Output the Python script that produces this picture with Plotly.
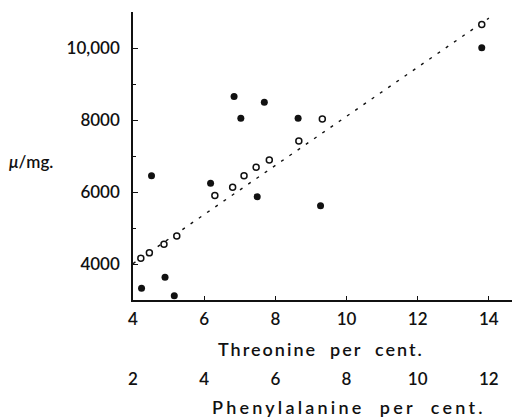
import plotly.graph_objects as go

# Threonine per cent. (x) and activity in units per mg (y)
threonine_pct = [4.24, 4.52, 4.90, 5.16, 6.18, 6.84, 7.03, 7.49, 7.69, 8.64, 9.27, 13.80]
observed_units = [3325, 6450, 3630, 3120, 6240, 8650, 8050, 5870, 8490, 8050, 5620, 10010]

fitted_threonine_pct = [4.22, 4.46, 4.87, 5.23, 6.30, 6.80, 7.12, 7.46, 7.83, 8.66, 9.32, 13.80]
fitted_units = [4160, 4310, 4550, 4780, 5900, 6130, 6450, 6690, 6890, 7420, 8030, 10650]

regression_x = [4.0, 14.0]
regression_y = [4010, 10830]

threonine_ticks = [4, 6, 8, 10, 12, 14]
phenylalanine_ticks = [2, 4, 6, 8, 10, 12]
y_major_ticks = [4000, 6000, 8000, 10000]
y_major_labels = ["4000", "6000", "8000", "10,000"]
y_minor_ticks = [5000, 7000, 9000]

INK = "#111111"
FONT = "Lato"
W = 600

fig = go.Figure()
fig.add_trace(go.Scatter(
    x=regression_x, y=regression_y, mode="lines",
    line=dict(color=INK, width=1.4, dash="3px,7px"),
    showlegend=False, hoverinfo="skip"))
fig.add_trace(go.Scatter(
    x=fitted_threonine_pct, y=fitted_units, mode="markers",
    marker=dict(symbol="circle", size=6, color="white",
                line=dict(color=INK, width=1.5)),
    showlegend=False))
fig.add_trace(go.Scatter(
    x=threonine_pct, y=observed_units, mode="markers",
    marker=dict(symbol="circle", size=7, color=INK, line=dict(width=0)),
    showlegend=False))
fig.add_trace(go.Scatter(x=[], y=[], xaxis="x2", showlegend=False, hoverinfo="skip"))

y_dom0 = 120 / 408

def spaced(s, px):
    return '<span style="letter-spacing:%spx">' % px + s + '</span>'

tick_font = dict(family=FONT, size=17, color=INK, weight=W)

fig.update_layout(
    width=519, height=420, autosize=False,
    margin=dict(l=133, r=7, t=12, b=0),
    paper_bgcolor="white", plot_bgcolor="white",
    font=dict(family=FONT, size=17, color=INK, weight=W),
    xaxis=dict(
        range=[4, 14.65], tickvals=threonine_ticks,
        ticks="inside", ticklen=4, tickwidth=1, tickcolor=INK,
        ticklabelstandoff=3,
        showline=True, linecolor=INK, linewidth=1.5,
        showgrid=False, zeroline=False, anchor="y",
        tickfont=tick_font),
    xaxis2=dict(
        range=[2, 12.65], tickvals=phenylalanine_ticks,
        overlaying="x", anchor="free", position=0.129, side="bottom",
        ticks="", showline=False, showgrid=False, zeroline=False,
        tickfont=tick_font),
    yaxis=dict(
        domain=[y_dom0, 1], range=[3000, 11000],
        tickvals=y_major_ticks, ticktext=y_major_labels,
        ticks="inside", ticklen=5, tickwidth=1, tickcolor=INK,
        minor=dict(tickvals=y_minor_ticks, ticks="inside", ticklen=3,
                   tickcolor=INK, showgrid=False),
        ticklabelstandoff=8,
        showline=True, linecolor=INK, linewidth=1.5,
        showgrid=False, zeroline=False,
        tickfont=tick_font),
    annotations=[
        dict(text=spaced("Threonine\u00a0 per\u00a0 cent.", 2), xref="paper", yref="paper",
             x=(321 - 133) / 379, y=(420 - 349) / 408,
             xanchor="center", yanchor="middle", showarrow=False,
             font=dict(family=FONT, size=18, color=INK, weight=W)),
        dict(text=spaced("Phenylalanine\u00a0 per\u00a0 cent.", 3.2), xref="paper", yref="paper",
             x=(349 - 133) / 379, y=(420 - 407) / 408,
             xanchor="center", yanchor="middle", showarrow=False,
             font=dict(family=FONT, size=18, color=INK, weight=W)),
        dict(text="<i>\u03bc</i>/mg.", xref="paper", yref="paper",
             x=(7 - 133) / 379, y=(420 - 161) / 408,
             xanchor="left", yanchor="middle", showarrow=False,
             font=dict(family=FONT, size=17, color=INK, weight=W)),
    ],
)

fig.write_html("out.html")
